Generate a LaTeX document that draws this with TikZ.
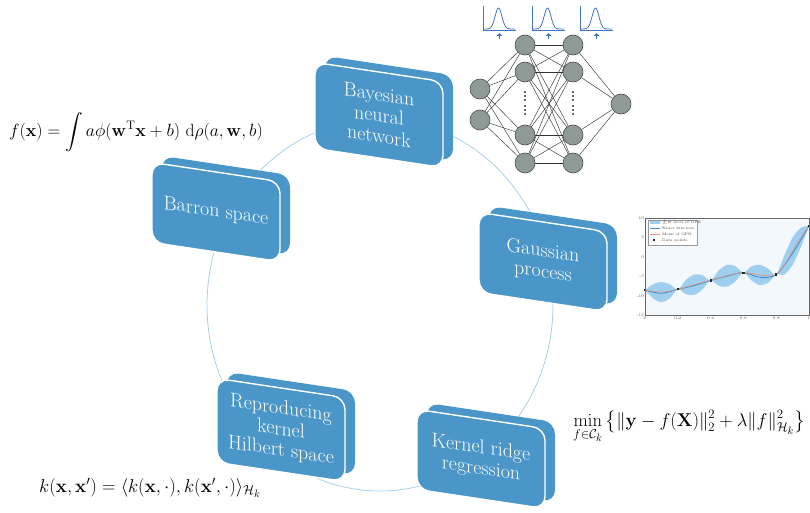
\documentclass[tikz,border=0pt]{standalone}
\usepackage{amsmath,amssymb}
\usepackage{graphicx}
\usetikzlibrary{arrows.meta}
\definecolor{boxblue}{HTML}{4A96C8}
\definecolor{ringblue}{HTML}{A8D1EE}
\definecolor{nodegray}{HTML}{8E9A98}
\definecolor{iconblue}{HTML}{3F74C6}
\definecolor{bandblue}{HTML}{9FCFEF}
\definecolor{exactblue}{HTML}{3B8FD6}
\definecolor{meanorange}{HTML}{E8957A}
\definecolor{plotbg}{HTML}{F3F8FC}
\tikzset{
  frontface/.style={draw=white, line width=1.4pt, fill=boxblue, rounded corners=12pt,
    minimum width=128pt, minimum height=80pt, text=white, align=center,
    font=\fontsize{20}{21}\selectfont, inner sep=0pt},
  backface/.style={fill=boxblue, rounded corners=12pt, minimum width=128pt, minimum height=80pt},
  nnode/.style={circle, fill=nodegray, draw=black!70, line width=0.6pt, minimum size=20pt, inner sep=0pt},
  nlink/.style={draw=black!80, line width=0.45pt},
  formula/.style={font=\fontsize{17.28}{20}\selectfont, inner sep=0pt},
  ticklab/.style={font=\fontsize{4}{4}\selectfont, inner sep=0.8pt, text=black!70},
  leglab/.style={font=\fontsize{3.6}{4}\selectfont, inner sep=0pt, anchor=west, text=black!75},
}
\begin{document}
\begin{tikzpicture}[x=1pt,y=1pt]
\useasboundingbox (0,0) rectangle (810,-513);

% ring
\draw[ringblue, line width=0.8pt] (380,-305) ellipse [x radius=173, y radius=186];

% boxes
\begin{scope}[shift={(379,-115)}, yslant=-0.15, transform shape]
  \node[backface, minimum height=86pt] (bnnback) at (10,8) {};
  \node[frontface, minimum height=86pt] (bnn) at (0,0) {Bayesian\\neural\\network};
\end{scope}
\begin{scope}[shift={(216,-212)}, yslant=-0.15, transform shape]
  \node[backface] (barronback) at (10,8) {};
  \node[frontface] (barron) at (0,0) {Barron space};
\end{scope}
\begin{scope}[shift={(543,-262)}, yslant=-0.15, transform shape]
  \node[backface] (gpback) at (10,8) {};
  \node[frontface] (gp) at (0,0) {Gaussian\\process};
\end{scope}
\begin{scope}[shift={(281,-430)}, yslant=-0.15, transform shape]
  \node[backface, minimum height=84pt] (rkhsback) at (10,8) {};
  \node[frontface, minimum height=84pt] (rkhs) at (0,0) {Reproducing\\kernel\\Hilbert space};
\end{scope}
\begin{scope}[shift={(481,-459)}, yslant=-0.15, transform shape]
  \node[backface] (krrback) at (10,8) {};
  \node[frontface] (krr) at (0,0) {Kernel ridge\\regression};
\end{scope}

% formulas
\node[formula, anchor=west] (fx) at (9,-132)
  {\scalebox{1.025}{$f(\mathbf{x}) = \displaystyle\int a\phi(\mathbf{w}^{\mathrm{T}}\mathbf{x}+b)\ \mathrm{d}\rho(a,\mathbf{w},b)$}};
\node[formula, anchor=west] (minf) at (573,-427)
  {\scalebox{1.07}{$\displaystyle\min_{f\in\mathcal{C}_k}\left\{\|\mathbf{y}-f(\mathbf{X})\|_2^2+\lambda\|f\|_{\mathcal{H}_k}^2\right\}$}};
\node[formula, anchor=west] (kx) at (39,-488)
  {\scalebox{1.08}{$k(\mathbf{x},\mathbf{x}')=\langle k(\mathbf{x},\cdot),k(\mathbf{x}',\cdot)\rangle_{\mathcal{H}_k}$}};

% neural network
\node[nnode] (i1) at (480,-89) {};
\node[nnode] (i2) at (480,-120) {};
\foreach \n/\y in {1/45,2/72,3/135,4/163}{
  \node[nnode] (a\n) at (525,-\y) {};
  \node[nnode] (b\n) at (573,-\y) {};
}
\node[nnode] (o1) at (621,-104) {};
\foreach \i in {1,2}{\foreach \j in {1,2,3,4}{\draw[nlink] (i\i) -- (a\j);}}
\foreach \i in {1,2,3,4}{\foreach \j in {1,2,3,4}{\draw[nlink] (a\i) -- (b\j);}}
\foreach \i in {1,2,3,4}{\draw[nlink] (b\i) -- (o1);}
\foreach \x in {525,573}{\foreach \y in {92,96,100,106,110,114}{\fill[black!80] (\x,-\y) circle (1.1);}}

% gaussian icons
\foreach \ox/\nm in {483/g1,532/g2,580/g3}{
  \begin{scope}[shift={(\ox,-30)}]
    \coordinate (\nm) at (0,0);
    \draw[iconblue, line width=0.8pt] (0,24) -- (0,0) -- (33,0);
    \draw[iconblue, line width=0.8pt] plot[domain=1:32, samples=40, smooth] (\x,{1+21*exp(-((\x-15.5)/4.8)^2)});
    \draw[iconblue, line width=1.8pt, -{Triangle[length=3pt,width=5.5pt]}] (16.5,-9) -- (16.5,-3);
  \end{scope}
}

% GP plot
\begin{scope}[shift={(645pt,-257pt)}, x=164pt, y=3.9pt]
  \fill[plotbg] (0,-15) rectangle (1,10);
  \fill[bandblue] plot[smooth] coordinates {(0,-8.5) (0.05,-6.96) (0.1,-6.4) (0.15,-6.96) (0.2,-8.3) (0.25,-5.86) (0.3,-4.5) (0.35,-4.66) (0.4,-6.0) (0.45,-3.42) (0.5,-2.0) (0.55,-2.32) (0.6,-4.0) (0.65,-2.36) (0.7,-2.0) (0.75,-2.96) (0.8,-4.5) (0.85,0.47) (0.9,5.0) (0.95,7.47) (1,8)}
    -- plot[smooth] coordinates {(1,8) (0.95,2.53) (0.9,-2.0) (0.85,-4.47) (0.8,-4.5) (0.75,-6.64) (0.7,-7.2) (0.65,-6.04) (0.6,-4.0) (0.55,-6.28) (0.5,-7.6) (0.45,-7.38) (0.4,-6.0) (0.35,-8.34) (0.3,-9.7) (0.25,-9.54) (0.2,-8.3) (0.15,-10.64) (0.1,-11.6) (0.05,-10.64) (0,-8.5)} -- cycle;
  \draw[exactblue, line width=0.9pt] plot[smooth] coordinates {(0,-8.5) (0.1,-9.3) (0.2,-8.3) (0.3,-7.3) (0.4,-6.0) (0.5,-4.9) (0.6,-4.0) (0.7,-5.2) (0.8,-4.5) (0.9,1.0) (1,8)};
  \draw[meanorange, line width=0.6pt] plot[smooth] coordinates {(0,-8.5) (0.05,-8.8) (0.1,-9.0) (0.15,-8.8) (0.2,-8.3) (0.25,-7.7) (0.3,-7.1) (0.35,-6.5) (0.4,-6.0) (0.45,-5.4) (0.5,-4.8) (0.55,-4.3) (0.6,-4.0) (0.65,-4.2) (0.7,-4.6) (0.75,-4.8) (0.8,-4.5) (0.85,-2.0) (0.9,1.5) (0.95,5.0) (1,8)};
  \foreach \px/\py in {0/-8.5,0.2/-8.3,0.4/-6.0,0.6/-4.0,0.8/-4.5,1/8}{
    \fill[black!85] (\px,\py) ++(-1.1pt,-1.1pt) rectangle ++(2.2pt,2.2pt);}
  \draw[black!60, line width=0.3pt] (0,-15) rectangle (1,10);
  \foreach \t in {0,0.2,0.4,0.6,0.8,1}{
    \draw[black!60, line width=0.3pt] (\t,-15) -- ++(0,1pt);
    \node[ticklab, anchor=north] (xt\t) at (\t,-15) {\t};}
  \foreach \t in {-15,-10,-5,0,5,10}{
    \draw[black!60, line width=0.3pt] (0,\t) -- ++(1pt,0);
    \node[ticklab, anchor=east] (yt\t) at (0,\t) {\t};}
\end{scope}
% legend
\begin{scope}[shift={(648pt,-220pt)}]
  \node[draw=black!40, fill=white, line width=0.25pt, minimum width=49pt, minimum height=25pt, anchor=north west, inner sep=0pt] (legend) at (0,0) {};
  \fill[bandblue] (2,-1.0) rectangle (12,-4.2);
  \node[leglab] (l1) at (14,-2.6) {$\pm\sigma$ level of GPR};
  \draw[exactblue, line width=1.2pt] (2,-8.6) -- (12,-8.6);
  \node[leglab] (l2) at (14,-8.6) {Exact function};
  \draw[meanorange, line width=1.2pt] (2,-14.4) -- (12,-14.4);
  \node[leglab] (l3) at (14,-14.4) {Mean of GPR};
  \fill[black!85] (6,-20.2) ++(-1.1,-1.1) rectangle ++(2.2,2.2);
  \node[leglab] (l4) at (14,-20.2) {Data points};
\end{scope}
\end{tikzpicture}
\end{document}
